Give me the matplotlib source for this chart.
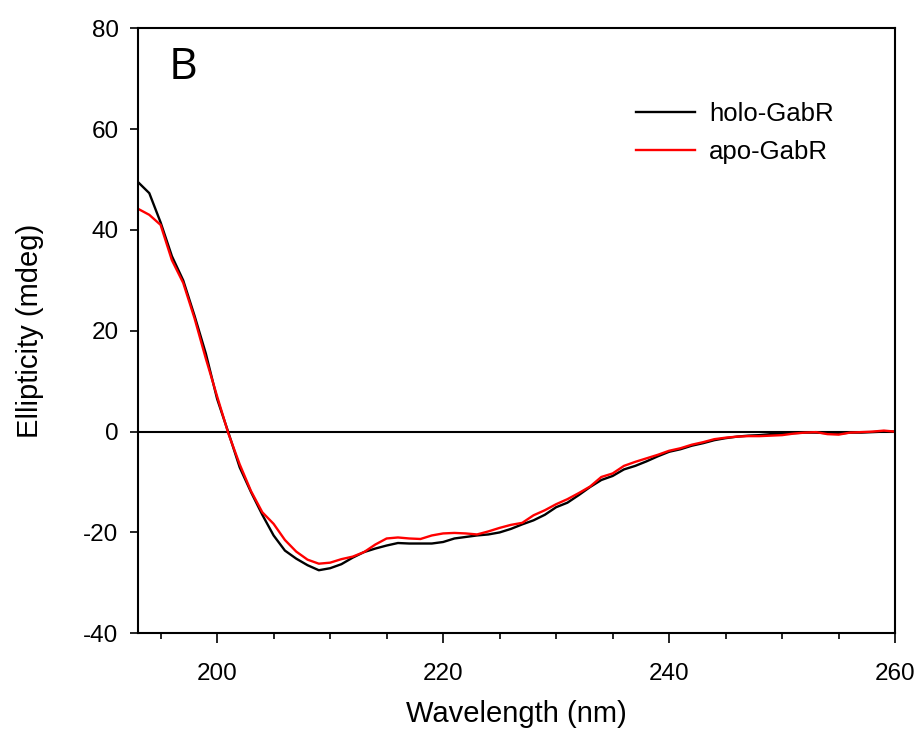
#!/usr/bin/env python3
# -*- coding: utf-8 -*-

import matplotlib
matplotlib.use("Agg")
import matplotlib.pyplot as plt
from matplotlib.ticker import MultipleLocator

# Wavelength (nm) and ellipticity (mdeg)
wavelength = list(range(193, 261))

holo = [49.5, 47.3, 41.5, 34.8, 30.0, 23.0, 15.5, 6.5, -0.2, -7.1,
        -12.0, -16.5, -20.6, -23.6, -25.2, -26.5, -27.5, -27.1, -26.3, -25.0,
        -23.9, -23.2, -22.6, -22.1, -22.2, -22.2, -22.2, -21.9, -21.2, -20.9,
        -20.6, -20.4, -20.0, -19.3, -18.4, -17.6, -16.5, -15.0, -14.1, -12.6,
        -11.0, -9.6, -8.8, -7.5, -6.8, -5.9, -4.9, -4.0, -3.5, -2.8,
        -2.3, -1.7, -1.3, -1.0, -0.8, -0.7, -0.5, -0.4, -0.3, -0.2,
        -0.2, -0.3, -0.4, -0.2, -0.2, -0.1, 0.0, 0.0]

apo = [44.2, 43.0, 41.0, 34.0, 29.5, 22.5, 14.5, 7.0, -0.4, -6.5,
       -11.8, -16.0, -18.3, -21.5, -23.8, -25.4, -26.2, -26.0, -25.3, -24.8,
       -23.9, -22.4, -21.2, -21.0, -21.2, -21.3, -20.6, -20.2, -20.1, -20.2,
       -20.4, -19.8, -19.1, -18.5, -18.1, -16.6, -15.6, -14.4, -13.4, -12.2,
       -10.9, -9.0, -8.3, -6.8, -6.0, -5.3, -4.6, -3.8, -3.3, -2.6,
       -2.1, -1.5, -1.2, -1.0, -0.9, -0.9, -0.8, -0.7, -0.4, -0.2,
       -0.1, -0.5, -0.6, -0.2, -0.1, 0.0, 0.2, 0.0]

plt.rcParams['font.family'] = ['Liberation Sans', 'DejaVu Sans']
plt.rcParams['axes.unicode_minus'] = False

fig = plt.figure(figsize=(9.2, 7.45), dpi=100)
ax = fig.add_axes([0.150, 0.150, 0.823, 0.812])

ax.plot(wavelength, holo, color='black', lw=1.7, label='holo-GabR')
ax.plot(wavelength, apo, color='#ff0000', lw=1.7, label='apo-GabR')
ax.axhline(0, color='black', lw=1.5, zorder=1)

ax.set_xlim(193, 260)
ax.set_ylim(-40, 80)
ax.xaxis.set_major_locator(MultipleLocator(20))
ax.xaxis.set_minor_locator(MultipleLocator(5))
ax.yaxis.set_major_locator(MultipleLocator(20))

for s in ax.spines.values():
    s.set_linewidth(1.5)
ax.tick_params(which='both', direction='out', top=False, right=False,
               labelsize=17.5, width=1.2)
ax.tick_params(axis='x', which='major', length=7.5, pad=14)
ax.tick_params(axis='y', which='major', length=6, pad=8)
ax.tick_params(which='minor', length=4.5)

ax.set_xlabel("Wavelength (nm)", fontsize=21, labelpad=11)
ax.set_ylabel("Ellipticity (mdeg)", fontsize=21, labelpad=28)

ax.text(0.04, 0.934, "B", transform=ax.transAxes, fontsize=32,
        family='Open Sans', ha='left', va='center')

ax.legend(loc='upper right', bbox_to_anchor=(0.932, 0.895), frameon=False,
          fontsize=18.5, handlelength=2.3, handletextpad=0.55,
          labelspacing=0.55, borderaxespad=0)

fig.savefig('out.png', dpi=100)
